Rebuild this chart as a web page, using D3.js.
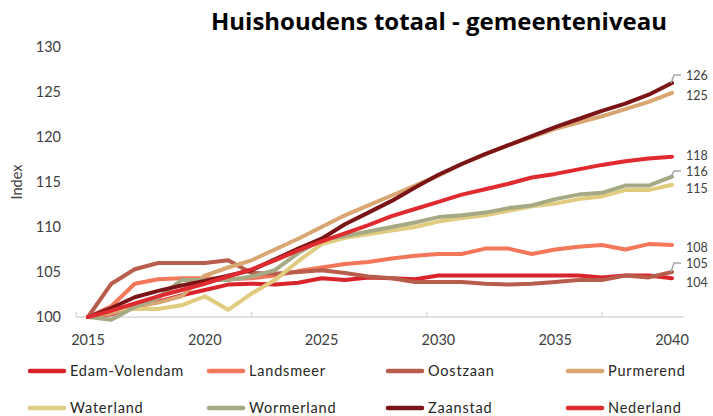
<!DOCTYPE html>
<html>
<head>
<meta charset="utf-8">
<script src="https://cdn.jsdelivr.net/npm/d3@7"></script>
<style>
  html, body { margin: 0; padding: 0; background: #fff; }
  svg { display: block; }
</style>
</head>
<body>
<div id="chart"></div>
<script>
// ---------- DATA ----------
const years = d3.range(2015, 2041);
const seriesNames = ["Edam-Volendam", "Landsmeer", "Oostzaan", "Purmerend", "Waterland", "Wormerland", "Zaanstad", "Nederland"];
const seriesColors = ["#D9232A", "#F4775A", "#B85C4B", "#D9A570", "#E0CB7E", "#A5AA85", "#7B1416", "#DF2A2F"];

const edamVolendam = [100, 100.3, 101.2, 101.7, 102.4, 103.0, 103.6, 103.7, 103.6, 103.8, 104.3, 104.1, 104.4, 104.3, 104.2, 104.6, 104.6, 104.6, 104.6, 104.6, 104.6, 104.6, 104.4, 104.6, 104.6, 104.3];
const landsmeer    = [100, 101.2, 103.7, 104.2, 104.3, 104.3, 104.2, 104.3, 104.6, 105.1, 105.5, 105.9, 106.1, 106.5, 106.8, 107.0, 107.0, 107.6, 107.6, 107.0, 107.5, 107.8, 108.0, 107.5, 108.1, 108.0];
const oostzaan     = [100, 103.7, 105.3, 106.0, 106.0, 106.0, 106.3, 104.9, 104.8, 105.0, 105.2, 104.9, 104.5, 104.3, 103.9, 103.9, 103.9, 103.7, 103.6, 103.7, 103.9, 104.1, 104.1, 104.6, 104.4, 105.0];
const purmerend    = [100, 100.4, 101.1, 101.6, 102.3, 104.6, 105.5, 106.3, 107.5, 108.7, 110.0, 111.3, 112.4, 113.5, 114.6, 115.7, 117.0, 118.1, 119.1, 120.0, 120.9, 121.6, 122.3, 123.1, 123.9, 124.9];
const waterland    = [100, 100.9, 100.9, 100.9, 101.3, 102.3, 100.8, 102.6, 104.1, 106.2, 108.1, 108.8, 109.2, 109.6, 110.0, 110.6, 111.0, 111.3, 111.8, 112.3, 112.6, 113.1, 113.4, 114.1, 114.1, 114.7];
const wormerland   = [100, 99.7, 101.1, 102.1, 104.1, 104.1, 104.1, 104.5, 105.2, 107.1, 108.6, 109.0, 109.5, 110.0, 110.5, 111.1, 111.3, 111.6, 112.1, 112.4, 113.1, 113.6, 113.8, 114.6, 114.6, 115.6];
const zaanstad     = [100, 101.0, 102.2, 102.9, 103.5, 104.0, 104.6, 105.2, 106.4, 107.6, 108.7, 110.3, 111.6, 112.9, 114.4, 115.8, 117.0, 118.1, 119.1, 120.1, 121.1, 122.0, 122.9, 123.7, 124.7, 126.0];
const nederland    = [100, 100.7, 101.5, 102.3, 103.0, 103.7, 104.5, 105.3, 106.3, 107.4, 108.4, 109.3, 110.2, 111.2, 112.0, 112.8, 113.6, 114.2, 114.8, 115.5, 115.9, 116.4, 116.9, 117.3, 117.6, 117.8];

const seriesValues = [edamVolendam, landsmeer, oostzaan, purmerend, waterland, wormerland, zaanstad, nederland];
const yTicks = [100, 105, 110, 115, 120, 125, 130];
const xTickLabels = [2015, 2020, 2025, 2030, 2035, 2040];
const titleText = "Huishoudens totaal - gemeenteniveau";
const yAxisTitle = "Index";

// ---------- LAYOUT ----------
const W = 713, H = 416;
const FONT = "Lato, 'Open Sans', sans-serif";
const svg = d3.select("#chart").append("svg").attr("width", W).attr("height", H);

const x = d3.scaleLinear().domain([2015, 2040]).range([88, 672]);
const y = d3.scaleLinear().domain([100, 130]).range([317, 47]);

// title
const title = svg.append("text")
  .attr("x", 439).attr("y", 30)
  .attr("text-anchor", "middle")
  .attr("font-family", "'Open Sans', sans-serif")
  .attr("font-weight", "bold")
  .attr("font-size", 21)
  .attr("fill", "#000")
  .text(titleText);
const tw = title.node().getComputedTextLength();
title.attr("font-size", 21 * 456 / tw);

// y axis labels
svg.append("g").selectAll("text").data(yTicks).join("text")
  .attr("x", 61).attr("y", d => y(d))
  .attr("dy", "0.35em")
  .attr("text-anchor", "end")
  .attr("font-family", FONT).attr("font-size", 14.5)
  .attr("fill", "#404040")
  .text(d => d);

svg.append("text")
  .attr("transform", `translate(22,${y(115)}) rotate(-90)`)
  .attr("text-anchor", "middle")
  .attr("font-family", FONT).attr("font-size", 14.5)
  .attr("fill", "#404040")
  .text(yAxisTitle);

// x axis line
const axisG = svg.append("g");
axisG.append("line")
  .attr("x1", x(2014.5)).attr("x2", x(2040.5))
  .attr("y1", y(100)).attr("y2", y(100))
  .attr("stroke", "#D9D9D9").attr("stroke-width", 1.5);
axisG.selectAll("line.tick").data([2014.5, 2022, 2029.5, 2037]).join("line")
  .attr("class", "tick")
  .attr("x1", d => x(d)).attr("x2", d => x(d))
  .attr("y1", y(100)).attr("y2", y(100) - 5)
  .attr("stroke", "#D9D9D9").attr("stroke-width", 1.5);
axisG.selectAll("text").data(xTickLabels).join("text")
  .attr("x", d => x(d)).attr("y", 345)
  .attr("text-anchor", "middle")
  .attr("font-family", FONT).attr("font-size", 14.5)
  .attr("fill", "#404040")
  .text(d => d);

// lines
const line = d3.line().x((d, i) => x(years[i])).y(d => y(d));
svg.append("g").selectAll("path").data(seriesValues).join("path")
  .attr("d", line)
  .attr("fill", "none")
  .attr("stroke", (d, i) => seriesColors[i])
  .attr("stroke-width", 4)
  .attr("stroke-linejoin", "round")
  .attr("stroke-linecap", "round");

// end labels
const labelNudge = { "Zaanstad": -7, "Nederland": -1, "Wormerland": -4.6, "Oostzaan": -8, "Waterland": 3.7, "Edam-Volendam": 4 };
const leader = new Set(["Zaanstad", "Wormerland", "Oostzaan"]);
const labG = svg.append("g");
seriesNames.forEach((name, i) => {
  const v = seriesValues[i][seriesValues[i].length - 1];
  const yl = y(v);
  const ly = yl + (labelNudge[name] !== undefined ? labelNudge[name] : 2.5);
  if (leader.has(name)) {
    labG.append("path")
      .attr("d", `M${x(2040) - 1},${yl} L${x(2040) + 2},${ly - 1} L${x(2040) + 9},${ly - 1}`)
      .attr("fill", "none").attr("stroke", "#A6A6A6").attr("stroke-width", 1.5);
  }
  labG.append("text")
    .attr("x", 686).attr("y", ly)
    .attr("dy", "0.35em")
    .attr("font-family", FONT).attr("font-size", 12.5)
    .attr("fill", "#404040")
    .text(Math.round(v));
});

// legend
const legCols = [28, 207, 386, 566];
const legRows = [371, 408];
const legG = svg.append("g");
seriesNames.forEach((name, i) => {
  const cx = legCols[i % 4], cy = legRows[Math.floor(i / 4)];
  legG.append("line")
    .attr("x1", cx + 2).attr("x2", cx + 36)
    .attr("y1", cy).attr("y2", cy)
    .attr("stroke", seriesColors[i]).attr("stroke-width", 4.5)
    .attr("stroke-linecap", "round");
  legG.append("text")
    .attr("x", cx + 42).attr("y", cy)
    .attr("dy", "0.35em")
    .attr("font-family", FONT).attr("font-size", 14.5)
    .attr("letter-spacing", 0.8)
    .attr("fill", "#262626")
    .text(name);
});
</script>
</body>
</html>
